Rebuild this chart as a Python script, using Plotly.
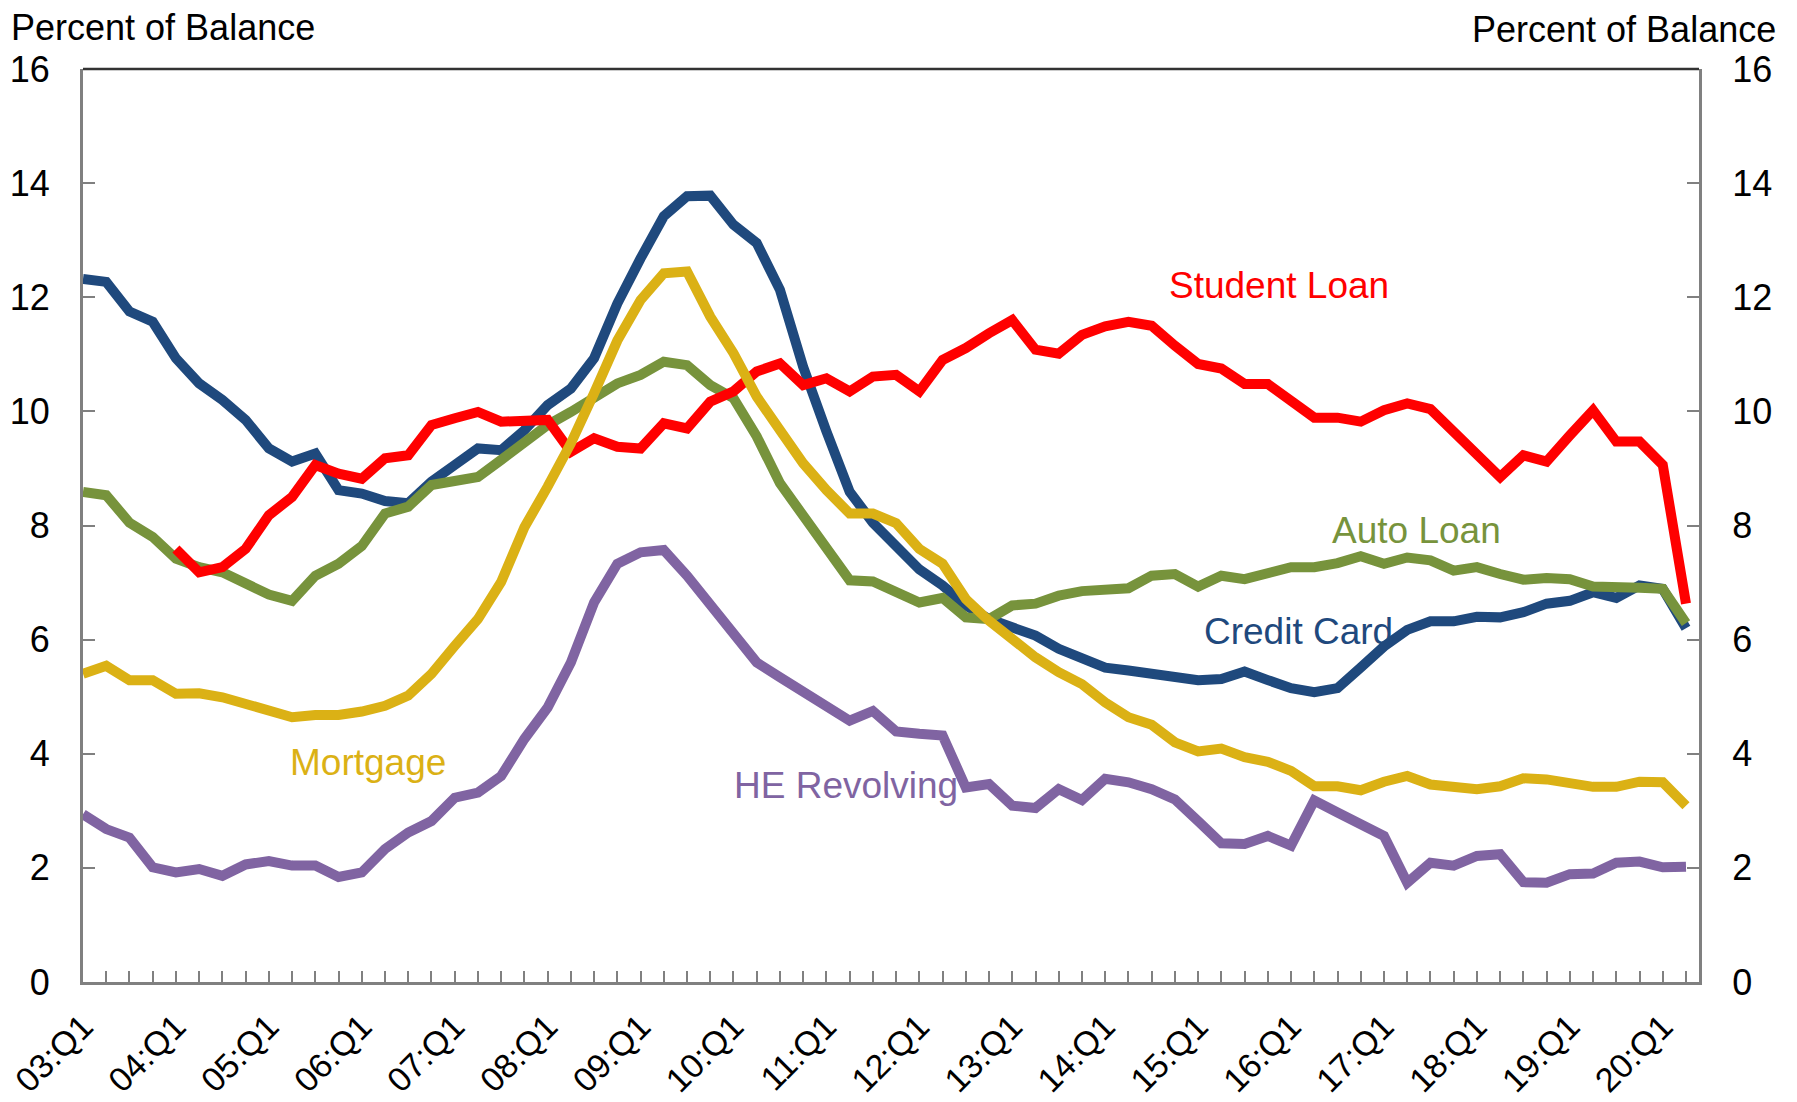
import plotly.graph_objects as go

# quarterly, 03:Q1 .. 20:Q2
years = list(range(3, 21))
quarters = [f"{y:02d}:Q{q}" for y in years for q in (1, 2, 3, 4)][:70]

credit_card = [
    12.32, 12.27, 11.75, 11.57, 10.93, 10.49, 10.20, 9.85, 9.35, 9.12,
    9.26, 8.62, 8.56, 8.43, 8.39, 8.77, 9.06, 9.35, 9.32, 9.67,
    10.11, 10.40, 10.93, 11.89, 12.68, 13.42, 13.77, 13.78, 13.27, 12.95,
    12.13, 10.78, 9.65, 8.59, 8.05, 7.65, 7.23, 6.95, 6.60, 6.36,
    6.22, 6.07, 5.84, 5.66, 5.51, 5.46, 5.40, 5.34, 5.29, 5.31,
    5.44, 5.29, 5.15, 5.08, 5.15, 5.51, 5.88, 6.17, 6.32, 6.32,
    6.40, 6.39, 6.48, 6.63, 6.68, 6.83, 6.73, 6.95, 6.89, 6.20,
]
student_loan = [
    None, None, None, None, 7.59, 7.18, 7.27, 7.59, 8.18, 8.50,
    9.06, 8.91, 8.82, 9.18, 9.23, 9.76, 9.88, 9.99, 9.82, 9.82,
    9.85, 9.29, 9.53, 9.38, 9.35, 9.79, 9.70, 10.17, 10.35, 10.70,
    10.84, 10.46, 10.58, 10.35, 10.61, 10.64, 10.35, 10.90, 11.11, 11.37,
    11.60, 11.08, 11.01, 11.34, 11.49, 11.57, 11.50, 11.15, 10.83, 10.75,
    10.48, 10.48, 10.17, 9.89, 9.89, 9.82, 10.02, 10.14, 10.04, 9.64,
    9.20, 8.85, 9.23, 9.12, 9.58, 10.02, 9.47, 9.47, 9.06, 6.63,
]
auto_loan = [
    8.59, 8.53, 8.05, 7.80, 7.42, 7.27, 7.18, 6.98, 6.79, 6.68,
    7.12, 7.33, 7.64, 8.21, 8.33, 8.71, 8.77, 8.85, 9.15, 9.44,
    9.76, 9.99, 10.26, 10.49, 10.64, 10.87, 10.81, 10.46, 10.23, 9.56,
    8.74, 8.15, 7.60, 7.04, 7.02, 6.83, 6.65, 6.73, 6.39, 6.36,
    6.60, 6.63, 6.77, 6.85, 6.86, 6.90, 7.12, 7.15, 6.93, 7.12,
    7.06, 7.15, 7.27, 7.27, 7.34, 7.46, 7.33, 7.44, 7.39, 7.21,
    7.27, 7.15, 7.05, 7.08, 7.06, 6.93, 6.94, 6.91, 6.89, 6.29,
]
mortgage = [
    5.40, 5.54, 5.29, 5.29, 5.05, 5.06, 4.99, 4.86, 4.74, 4.64,
    4.68, 4.68, 4.74, 4.84, 5.02, 5.40, 5.89, 6.36, 7.01, 7.97,
    8.68, 9.44, 10.32, 11.24, 11.95, 12.42, 12.45, 11.66, 11.02, 10.26,
    9.67, 9.09, 8.62, 8.21, 8.21, 8.04, 7.59, 7.33, 6.71, 6.33,
    6.01, 5.69, 5.43, 5.22, 4.90, 4.64, 4.51, 4.20, 4.04, 4.09,
    3.94, 3.86, 3.70, 3.43, 3.43, 3.36, 3.51, 3.61, 3.46, 3.40,
    3.38, 3.43, 3.57, 3.55, 3.50, 3.42, 3.42, 3.51, 3.50, 3.09,
]
he_revolving = [
    2.94, 2.68, 2.53, 2.01, 1.92, 1.98, 1.86, 2.06, 2.12, 2.04,
    2.04, 1.84, 1.92, 2.33, 2.62, 2.82, 3.23, 3.32, 3.61, 4.26,
    4.81, 5.60, 6.65, 7.33, 7.53, 7.57, 7.12, 6.60, 6.13, 5.60,
    5.34, 5.08, 4.84, 4.58, 4.75, 4.39, 4.35, 4.32, 3.41, 3.47,
    3.09, 3.05, 3.38, 3.19, 3.56, 3.50, 3.38, 3.20, 2.82, 2.43,
    2.42, 2.56, 2.39, 3.18, 2.97, 2.77, 2.56, 1.74, 2.09, 2.04,
    2.21, 2.24, 1.75, 1.74, 1.89, 1.90, 2.09, 2.11, 2.01, 2.02,
]

NAVY = "#1F497D"
RED = "#FF0000"
GREEN = "#77933C"
GOLD = "#DBB115"
PURPLE = "#8064A2"
GRAY = "#808080"
FONT = "Liberation Sans, Arial, sans-serif"

xs = list(range(len(quarters)))
ticktext = [q if q.endswith("Q1") else "" for q in quarters]

fig = go.Figure()
series = [
    ("HE Revolving", he_revolving, PURPLE, "y"),
    ("Credit Card", credit_card, NAVY, "y"),
    ("Auto Loan", auto_loan, GREEN, "y"),
    ("Student Loan", student_loan, RED, "y"),
    ("Mortgage", mortgage, GOLD, "y2"),
]
for name, vals, col, ax in series:
    fig.add_trace(go.Scatter(x=xs, y=vals, name=name, mode="lines",
                             line=dict(color=col, width=10),
                             connectgaps=False, yaxis=ax, hoverinfo="skip"))

# in-chart series labels (x in quarter index, y in percent)
labels = [
    ("Student Loan", 46.66, 12.21, RED),
    ("Auto Loan", 53.68, 7.91, GREEN),
    ("Credit Card", 48.17, 6.15, NAVY),
    ("Mortgage", 8.81, 3.84, GOLD),
    ("HE Revolving", 27.94, 3.45, PURPLE),
]
for txt, lx, ly, col in labels:
    fig.add_annotation(x=lx, y=ly, xref="x", yref="y", text=txt,
                       showarrow=False, xanchor="left", yanchor="middle",
                       font=dict(size=37, color=col, family=FONT))

# axis titles above both y axes
fig.add_annotation(x=-0.0458, y=1.0455, xref="paper", yref="paper",
                   text="Percent of Balance", showarrow=False,
                   xanchor="left", yanchor="middle",
                   font=dict(size=36, color="black", family=FONT))
fig.add_annotation(x=1.0489, y=1.0435, xref="paper", yref="paper",
                   text="Percent of Balance", showarrow=False,
                   xanchor="right", yanchor="middle",
                   font=dict(size=36, color="black", family=FONT))

# dark top border
fig.add_shape(type="line", xref="paper", yref="paper", x0=0, x1=1, y0=1, y1=1,
              line=dict(color="#333333", width=2.5))

yaxis_common = dict(range=[0, 16], tickvals=[0, 2, 4, 6, 8, 10, 12, 14, 16],
                    ticks="inside", ticklen=12, tickwidth=2, tickcolor=GRAY,
                    showline=True, linecolor=GRAY, linewidth=3,
                    showgrid=False, zeroline=False, fixedrange=True,
                    tickfont=dict(size=36, color="black", family=FONT),
                    ticklabelstandoff=23)

# page body adds an 8px offset, so the figure is sized to sit inside the window
fig.update_layout(
    width=1789, height=1094,
    margin=dict(l=75, r=98, t=61, b=120, autoexpand=False),
    paper_bgcolor="white", plot_bgcolor="white",
    showlegend=False,
    font=dict(family=FONT, color="black"),
    xaxis=dict(range=[0, 69.56], tickmode="array", tickvals=xs, ticktext=ticktext,
               ticks="inside", ticklen=11, tickwidth=2, tickcolor=GRAY,
               tickangle=-45, showline=True, linecolor=GRAY, linewidth=3,
               showgrid=False, zeroline=False, ticklabeloverflow="allow",
               tickfont=dict(size=34, color="black", family=FONT),
               ticklabelstandoff=8),
    yaxis=dict(side="left", **yaxis_common),
    yaxis2=dict(side="right", overlaying="y", **yaxis_common),
)

fig.write_html("out.html")
